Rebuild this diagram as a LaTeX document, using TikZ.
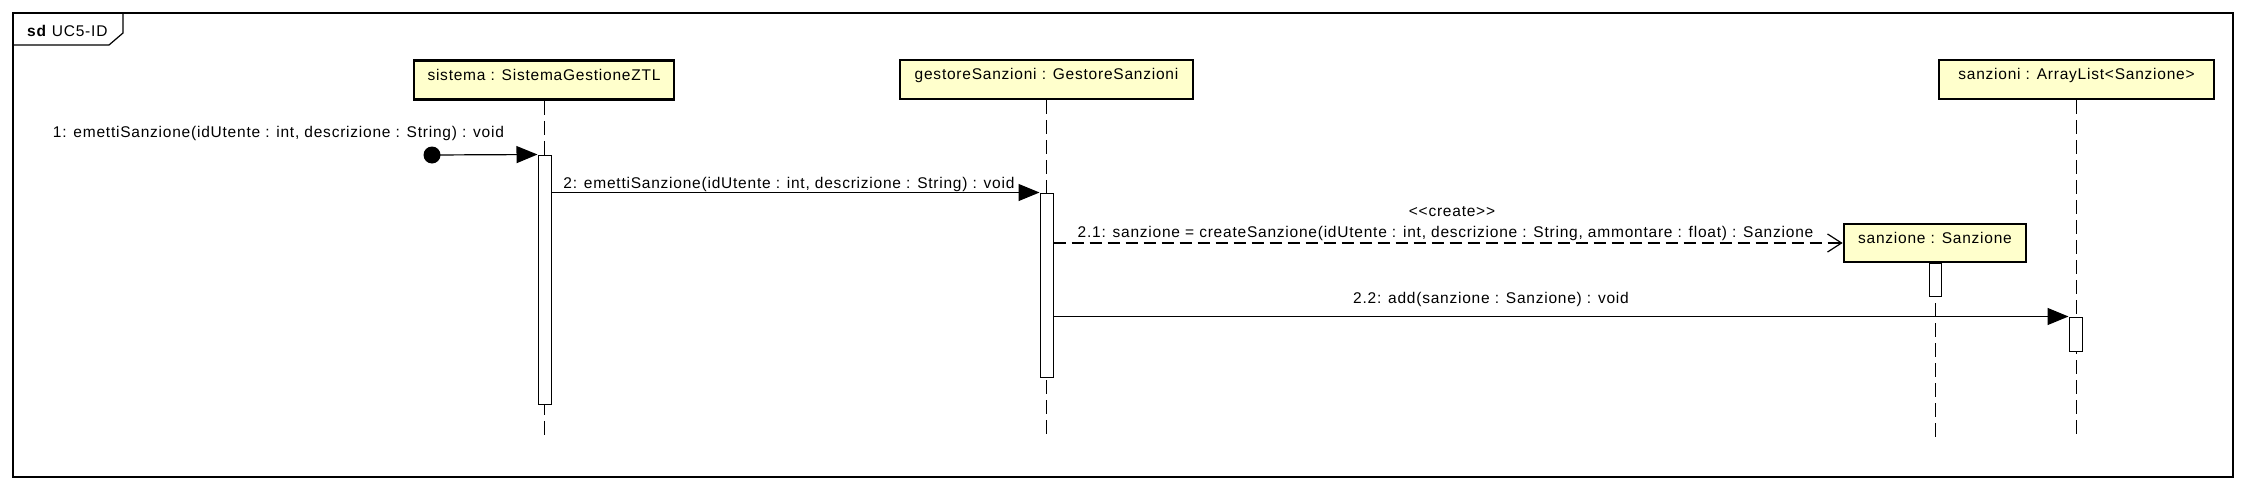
\documentclass[tikz,border=0pt]{standalone}
\usepackage{fontspec}
\newfontfamily\umlfam{Liberation Sans}[LetterSpace=5]
\newcommand\umlf{\umlfam\fontsize{15.5pt}{18pt}\selectfont}
\usetikzlibrary{arrows.meta}
\definecolor{boxfill}{RGB}{255,255,204}
\begin{document}
\begin{tikzpicture}[x=1pt,y=-1pt,
 obj/.style={draw, line width=2.7pt, fill=boxfill, font=\umlf, inner sep=0pt, text height=11pt, text depth=11pt, minimum height=39pt},
 act/.style={draw, line width=1pt, fill=white, minimum width=13pt, inner sep=0pt},
 life/.style={line width=1pt, dash pattern=on 14pt off 6pt},
 msg/.style={line width=1.2pt, -{Triangle[length=21pt,width=17pt]}},
 create/.style={line width=1.2pt, dash pattern=on 12pt off 6pt, -{Straight Barb[length=14pt,width=18pt]}},
 lbl/.style={font=\umlf, inner sep=0pt, anchor=base},
 frm/.style={line width=1.2pt}]
\useasboundingbox (0,0) rectangle (2246,490);
% frame
\draw[frm] (13,13) rectangle (2233,477);
\draw[frm] (13,45) -- (109,45) -- (123,33) -- (123,13);
\node[anchor=base west, inner sep=0pt, font=\umlf] (title) at (27,36) {\textbf{sd} UC5-ID};
% objects
\node[obj, minimum width=260pt] (sis) at (544,80) {sistema : SistemaGestioneZTL};
\node[obj, minimum width=293pt] (ges) at (1046.5,79.5) {gestoreSanzioni : GestoreSanzioni};
\node[obj, minimum width=275pt] (arr) at (2076.5,79.5) {sanzioni : ArrayList<Sanzione>};
\node[obj, minimum width=182pt, minimum height=38pt] (san) at (1935,243) {sanzione : Sanzione};
% lifelines
\coordinate (lend) at (0,437);
\draw[life] (sis.south) -- (sis.south |- lend);
\draw[life] (ges.south) -- (ges.south |- lend);
\draw[life] (san.south) -- (san.south |- lend);
\draw[life] (arr.south) -- (arr.south |- lend);
% activations
\node[act, minimum height=249pt] (a1) at (544.5,279.5) {};
\node[act, minimum height=184pt] (a2) at (1046.5,285) {};
\node[act, minimum width=12pt, minimum height=33pt] (a3) at (1935,279.5) {};
\node[act, minimum height=34pt] (a4) at (2075.5,334) {};
% messages
\coordinate (start) at (432,155);
\fill (start) circle (8.5pt);
\draw[msg] (start) -- (a1.north west);
\draw[msg] (a1.east |- a2.north) -- (a2.north west);
\draw[create] (a2.east |- san.west) -- (san.west);
\draw[msg] (a2.east |- a4.north) -- (a4.north west);
% labels
\node[lbl] (l1) at (278.5,137) {1: emettiSanzione(idUtente : int, descrizione : String) : void};
\node[lbl] (l2) at (789,188) {2: emettiSanzione(idUtente : int, descrizione : String) : void};
\node[lbl] (lc) at (1452,216) {<<create>>};
\node[lbl] (l21) at (1445.5,237) {2.1: sanzione = createSanzione(idUtente : int, descrizione : String, ammontare : float) : Sanzione};
\node[lbl] (l22) at (1491,303) {2.2: add(sanzione : Sanzione) : void};
\end{tikzpicture}
\end{document}
